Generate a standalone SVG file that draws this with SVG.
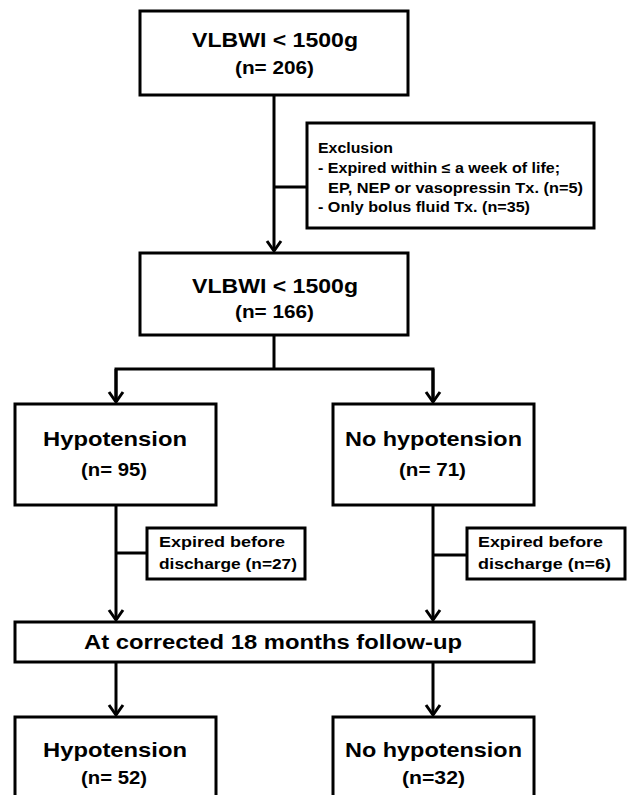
<svg xmlns="http://www.w3.org/2000/svg" width="628" height="795" viewBox="0 0 628 795">
<style>
.box{fill:#fff;stroke:#000;stroke-width:3}
.ln{fill:none;stroke:#000;stroke-width:3}
.t{font-family:"Liberation Sans",Arial,sans-serif;font-weight:bold;fill:#000;text-anchor:middle}
.big{font-size:21px}
.mid{font-size:18px}
.sm{font-size:14.5px;text-anchor:start}
.ex{font-size:15.5px;text-anchor:start}
</style>
<defs>
<marker id="arr" markerUnits="userSpaceOnUse" viewBox="-12 -9 14 18" refX="0" refY="0" markerWidth="14" markerHeight="18" orient="auto" overflow="visible">
<path d="M-10,-7 L0,0 L-10,7" fill="none" stroke="#000" stroke-width="3" stroke-linejoin="miter"/>
</marker>
</defs>
<g id="connectors">
<line class="ln" x1="274" y1="95" x2="274" y2="251" marker-end="url(#arr)"/>
<line class="ln" x1="274" y1="187" x2="307" y2="187"/>
<polyline class="ln" points="274,335 274,369"/>
<polyline class="ln" points="116,402 116,369 433,369 433,402"/>
<line class="ln" x1="116" y1="369" x2="116" y2="402" marker-end="url(#arr)"/>
<line class="ln" x1="433" y1="369" x2="433" y2="402" marker-end="url(#arr)"/>
<line class="ln" x1="116" y1="505" x2="116" y2="620" marker-end="url(#arr)"/>
<line class="ln" x1="433" y1="505" x2="433" y2="620" marker-end="url(#arr)"/>
<line class="ln" x1="116" y1="553" x2="147" y2="553"/>
<line class="ln" x1="433" y1="555" x2="467" y2="555"/>
<line class="ln" x1="116" y1="661" x2="116" y2="715" marker-end="url(#arr)"/>
<line class="ln" x1="433" y1="661" x2="433" y2="715" marker-end="url(#arr)"/>
</g>
<g id="n1">
<rect class="box" x="140" y="11" width="268" height="84"/>
<text class="t big" x="275" y="47" textLength="166" lengthAdjust="spacingAndGlyphs">VLBWI &lt; 1500g</text>
<text class="t mid" x="274.5" y="74" textLength="79" lengthAdjust="spacingAndGlyphs">(n= 206)</text>
</g>
<g id="exclusion">
<rect class="box" x="307" y="123" width="287" height="105"/>
<text class="t sm" x="318" y="153" textLength="75" lengthAdjust="spacingAndGlyphs">Exclusion</text>
<text class="t sm" x="318" y="173" textLength="242" lengthAdjust="spacingAndGlyphs">- Expired within ≤ a week of life;</text>
<text class="t sm" x="328" y="193" textLength="255" lengthAdjust="spacingAndGlyphs">EP, NEP or vasopressin Tx. (n=5)</text>
<text class="t sm" x="318" y="212" textLength="212" lengthAdjust="spacingAndGlyphs">- Only bolus fluid Tx. (n=35)</text>
</g>
<g id="n2">
<rect class="box" x="140" y="253" width="268" height="82"/>
<text class="t big" x="275" y="293" textLength="166" lengthAdjust="spacingAndGlyphs">VLBWI &lt; 1500g</text>
<text class="t mid" x="274.5" y="318" textLength="79" lengthAdjust="spacingAndGlyphs">(n= 166)</text>
</g>
<g id="hypo1">
<rect class="box" x="15" y="404" width="201" height="101"/>
<text class="t big" x="115" y="446" textLength="144" lengthAdjust="spacingAndGlyphs">Hypotension</text>
<text class="t mid" x="114" y="476" textLength="66" lengthAdjust="spacingAndGlyphs">(n= 95)</text>
</g>
<g id="nohypo1">
<rect class="box" x="333" y="404" width="201" height="101"/>
<text class="t big" x="433.5" y="446" textLength="177" lengthAdjust="spacingAndGlyphs">No hypotension</text>
<text class="t mid" x="432.5" y="476" textLength="67" lengthAdjust="spacingAndGlyphs">(n= 71)</text>
</g>
<g id="expired1">
<rect class="box" x="147" y="528" width="158" height="51"/>
<text class="t ex" x="159" y="547" textLength="126" lengthAdjust="spacingAndGlyphs">Expired before</text>
<text class="t ex" x="159" y="569" textLength="138" lengthAdjust="spacingAndGlyphs">discharge (n=27)</text>
</g>
<g id="expired2">
<rect class="box" x="467" y="528" width="158" height="51"/>
<text class="t ex" x="478" y="547" textLength="125" lengthAdjust="spacingAndGlyphs">Expired before</text>
<text class="t ex" x="478" y="569" textLength="133" lengthAdjust="spacingAndGlyphs">discharge (n=6)</text>
</g>
<g id="followup">
<rect class="box" x="15" y="622" width="519" height="40"/>
<text class="t big" x="273" y="649" textLength="378" lengthAdjust="spacingAndGlyphs">At corrected 18 months follow-up</text>
</g>
<g id="hypo2">
<rect class="box" x="15" y="717" width="201" height="100"/>
<text class="t big" x="115" y="757" textLength="144" lengthAdjust="spacingAndGlyphs">Hypotension</text>
<text class="t mid" x="114" y="784" textLength="66" lengthAdjust="spacingAndGlyphs">(n= 52)</text>
</g>
<g id="nohypo2">
<rect class="box" x="333" y="717" width="201" height="100"/>
<text class="t big" x="433.5" y="757" textLength="177" lengthAdjust="spacingAndGlyphs">No hypotension</text>
<text class="t mid" x="433.5" y="784" textLength="63" lengthAdjust="spacingAndGlyphs">(n=32)</text>
</g>
</svg>
